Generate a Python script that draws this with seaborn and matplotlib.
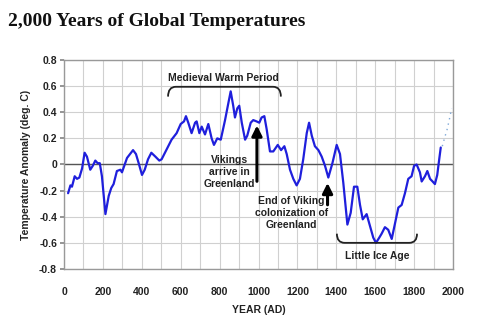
import matplotlib
matplotlib.use("Agg")
import matplotlib.pyplot as plt
from matplotlib.path import Path
from matplotlib.patches import PathPatch
import seaborn as sns
import pandas as pd

sns.set_theme(style="white")
plt.rcParams['font.family'] = ['Liberation Sans', 'DejaVu Sans']

# Reconstruction (solid blue)
years = [21, 33, 41, 55, 67, 79, 93, 106, 118, 135, 148, 161, 173, 184, 195, 213, 230,
         243, 255, 272, 290, 298, 324, 355, 370, 384, 401, 415, 432, 449, 470, 490,
         502, 519, 536, 553, 579, 600, 617, 627, 639, 656, 674, 682, 696, 708, 725,
         742, 759, 771, 788, 806, 828, 845, 857, 870, 879, 891, 901, 914, 931, 942,
         960, 973, 990, 1004, 1016, 1030, 1042, 1059, 1076, 1099, 1116, 1133, 1145,
         1162, 1179, 1196, 1213, 1230, 1248, 1260, 1274, 1290, 1308, 1325, 1342, 1359,
         1380, 1402, 1419, 1436, 1457, 1474, 1491, 1508, 1522, 1536, 1556, 1573, 1590,
         1604, 1621, 1633, 1650, 1667, 1685, 1702, 1719, 1736, 1753, 1770, 1787, 1800,
         1813, 1830, 1839, 1856, 1868, 1882, 1895, 1907, 1919, 1930, 1937]
temps = [-0.22, -0.16, -0.17, -0.09, -0.11, -0.10, -0.03, 0.09, 0.06, -0.04, -0.01,
         0.03, 0.01, 0.01, -0.09, -0.38, -0.24, -0.18, -0.15, -0.05, -0.04, -0.06,
         0.05, 0.11, 0.08, 0.01, -0.08, -0.04, 0.04, 0.09, 0.06, 0.03,
         0.04, 0.09, 0.14, 0.19, 0.24, 0.31, 0.33, 0.37, 0.32, 0.24, 0.32, 0.33, 0.24,
         0.29, 0.23, 0.31, 0.20, 0.15, 0.20, 0.19, 0.34, 0.47, 0.56, 0.45, 0.36, 0.43,
         0.45, 0.32, 0.19, 0.22, 0.32, 0.34, 0.33, 0.32, 0.36, 0.37, 0.27, 0.10, 0.10,
         0.15, 0.11, 0.14, 0.08, -0.04, -0.11, -0.16, -0.11, 0.04, 0.24, 0.32, 0.22,
         0.14, 0.11, 0.06, -0.01, -0.10, 0.01, 0.15, 0.08, -0.14, -0.46, -0.37, -0.17,
         -0.17, -0.31, -0.42, -0.38, -0.47, -0.56, -0.60, -0.56, -0.53, -0.48, -0.50,
         -0.57, -0.45, -0.33, -0.31, -0.22, -0.11, -0.09, -0.01, 0.00, -0.06, -0.13,
         -0.09, -0.05, -0.11, -0.13, -0.15, -0.08, 0.05, 0.13]

# Recent instrumental (dotted)
years_recent = [1945, 1958, 1970, 1982, 1993]
temps_recent = [0.14, 0.21, 0.27, 0.35, 0.43]

x_ticks = [0, 200, 400, 600, 800, 1000, 1200, 1400, 1600, 1800, 2000]
y_ticks = [-0.8, -0.6, -0.4, -0.2, 0, 0.2, 0.4, 0.6, 0.8]

df = pd.DataFrame({"year": years, "temp": temps})
df2 = pd.DataFrame({"year": years_recent, "temp": temps_recent})

fig = plt.figure(figsize=(5.0, 3.28), dpi=100)
ax = fig.add_axes([0.128, 0.180, 0.778, 0.637])

sns.lineplot(data=df, x="year", y="temp", ax=ax, color="#1f1fdc", lw=1.6, zorder=3)
sns.lineplot(data=df2, x="year", y="temp", ax=ax, color="#7fa8d8", lw=1.0,
             linestyle=(0, (1, 3)), zorder=3)

ax.set_xlim(0, 2000)
ax.set_ylim(-0.8, 0.8)
ax.set_xticks(x_ticks)
ax.set_yticks(y_ticks)
ax.set_xticks(range(0, 2001, 100), minor=True)
ax.grid(True, which="both", color="#d0d0d0", lw=0.8)
ax.grid(False, which="minor", axis="y")
ax.set_axisbelow(True)
ax.axhline(0, color="#555555", lw=1.0, zorder=2)
ax.set_xticklabels([str(v) for v in x_ticks], fontsize=7.5, fontweight="bold", color="#222222")
ax.set_yticklabels(["-0.8", "-0.6", "-0.4", "-0.2", "0", "0.2", "0.4", "0.6", "0.8"],
                   fontsize=7.5, fontweight="bold", color="#222222")
ax.tick_params(axis="x", length=0, pad=13)
ax.tick_params(axis="y", length=3, color="#888888", pad=2, left=True)
for s in ax.spines.values():
    s.set_color("#999999")
    s.set_linewidth(1.0)
ax.set_xlabel("YEAR (AD)", fontsize=7.5, fontweight="bold", color="#222222", labelpad=6)
ax.set_ylabel("Temperature Anomaly (deg. C)", fontsize=7.5, fontweight="bold",
              color="#222222", labelpad=6)

fig.text(0.016, 0.935, "2,000 Years of Global Temperatures", fontsize=14,
         fontweight="bold", family="Liberation Serif", color="#111111", va="center")

def bracket(x0, x1, yline, yend, r=40):
    verts = [(x0, yend), (x0, yline), (x0 + r, yline), (x1 - r, yline),
             (x1, yline), (x1, yend)]
    codes = [Path.MOVETO, Path.CURVE3, Path.CURVE3, Path.LINETO, Path.CURVE3, Path.CURVE3]
    ax.add_patch(PathPatch(Path(verts, codes), fill=False, lw=1.3, color="#222222",
                           zorder=4, clip_on=False))

bracket(535, 1115, 0.595, 0.52)
bracket(1403, 1815, -0.60, -0.53)

tk = dict(fontsize=7.5, fontweight="bold", color="#222222", ha="center", va="center",
          linespacing=1.25)
ax.text(818, 0.665, "Medieval Warm Period", **tk)
ax.text(850, -0.06, "Vikings\narrive in\nGreenland", **tk)
ax.text(1170, -0.37, "End of Viking\ncolonization of\nGreenland", **tk)
ax.text(1610, -0.70, "Little Ice Age", **tk)

arr = dict(arrowstyle="-|>,head_length=0.5,head_width=0.25", color="black", lw=2.2)
ax.annotate("", xy=(992, 0.32), xytext=(992, -0.15), arrowprops=arr, zorder=5)
ax.annotate("", xy=(1355, -0.12), xytext=(1355, -0.33), arrowprops=arr, zorder=5)

fig.savefig("out.png", dpi=100, facecolor="white")
